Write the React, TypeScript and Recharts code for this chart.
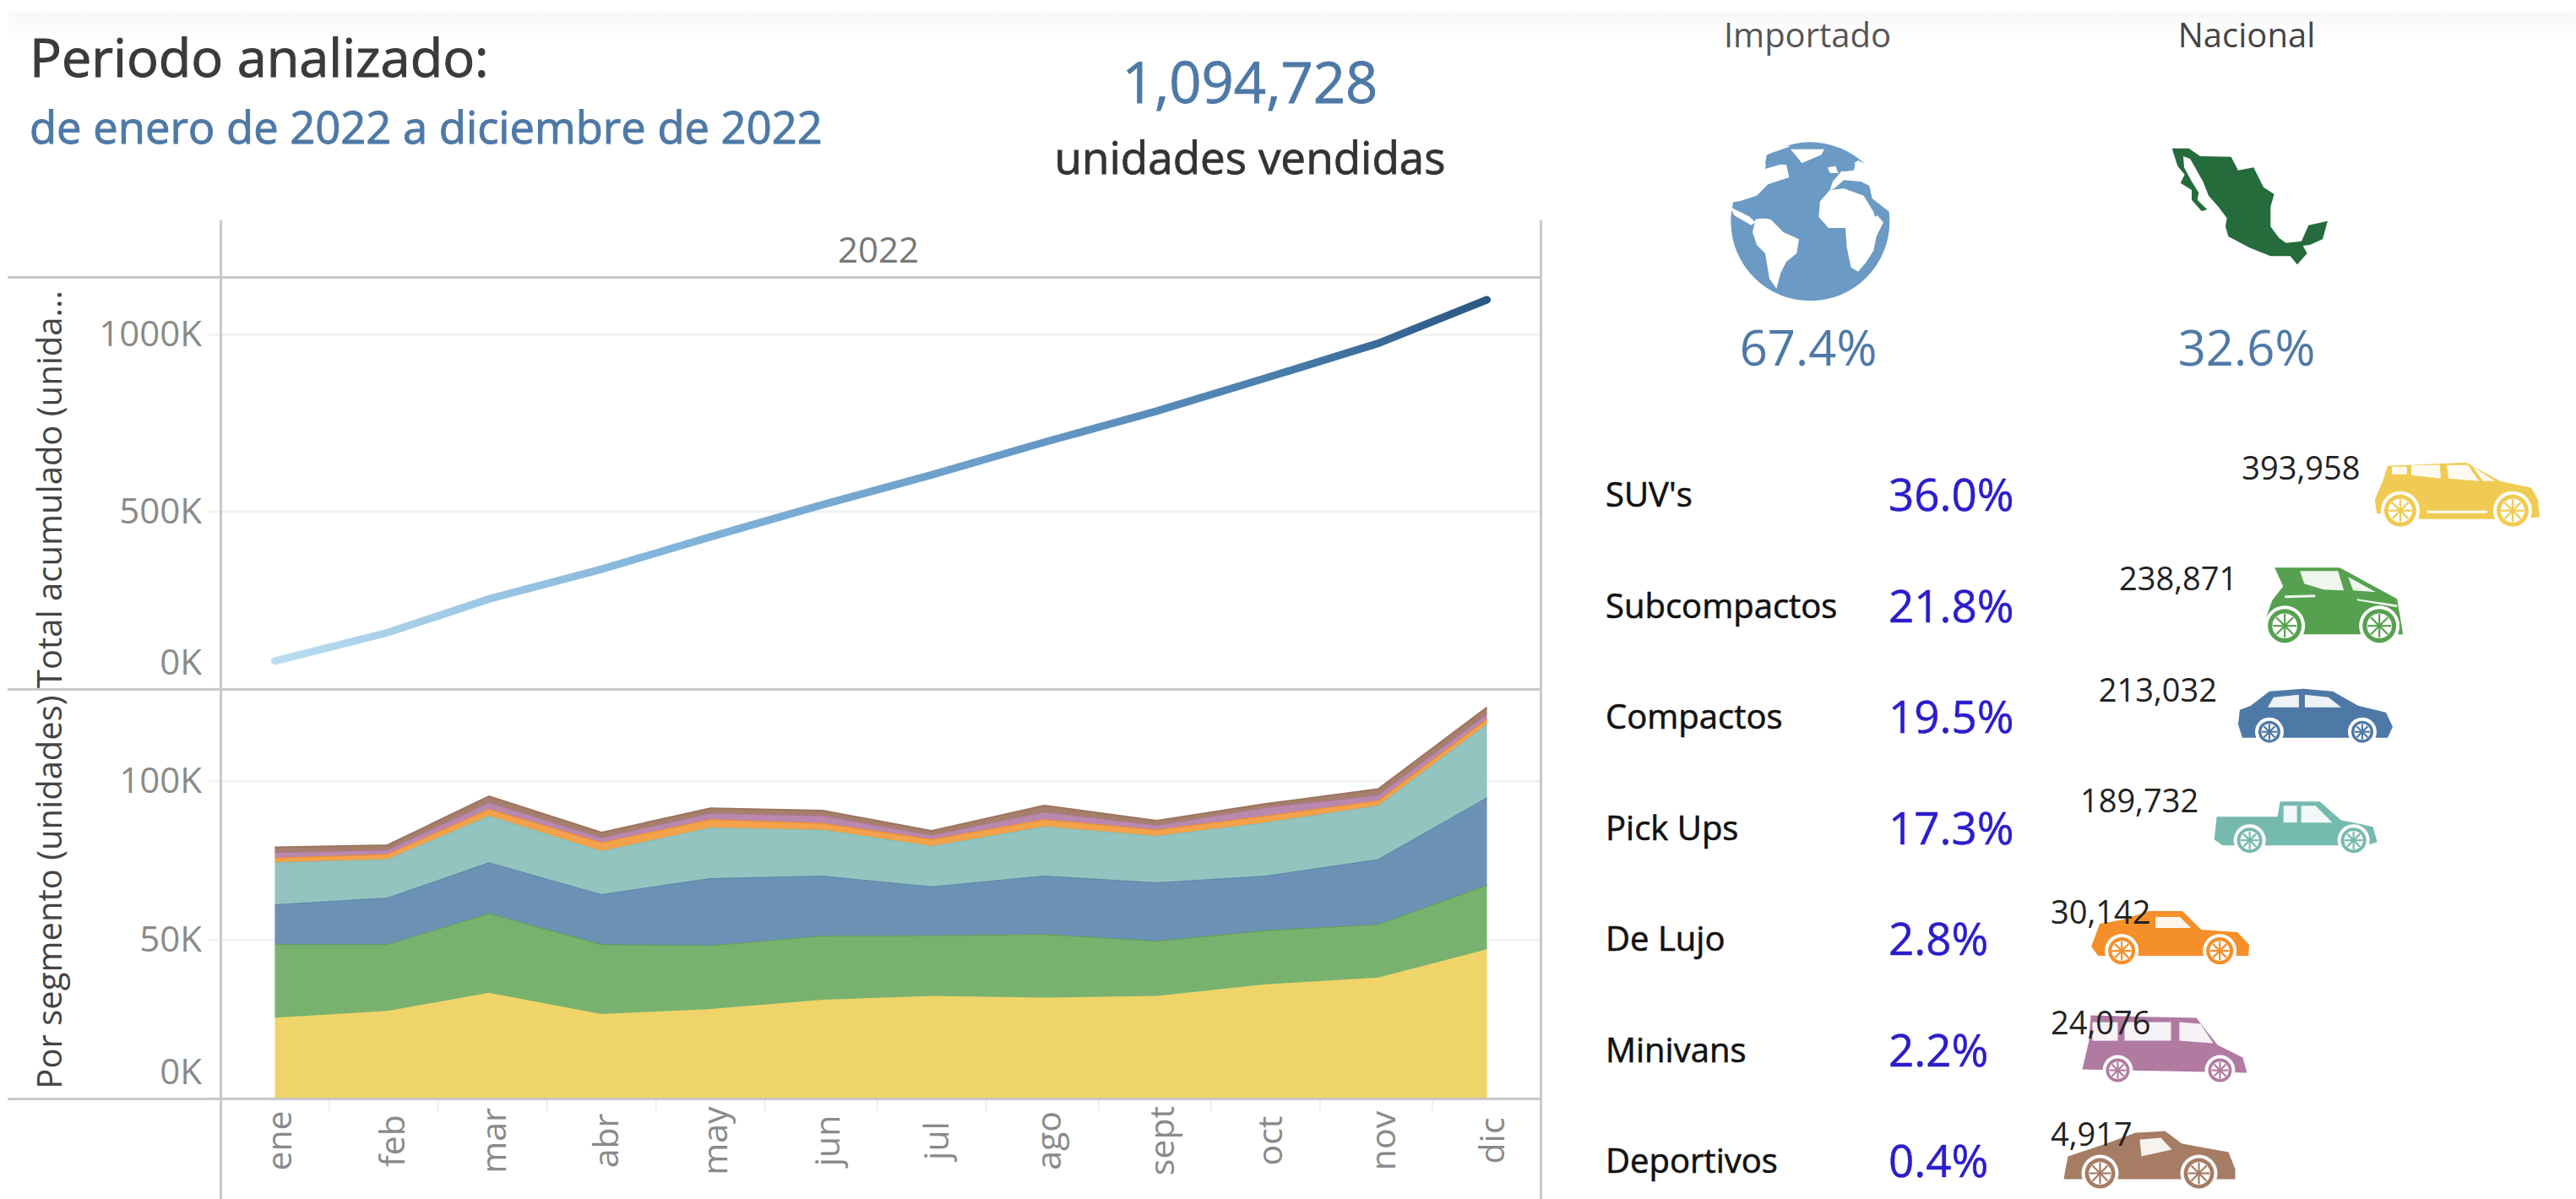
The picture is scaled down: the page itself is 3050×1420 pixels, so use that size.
import {
  Area,
  AreaChart,
  CartesianGrid,
  Line,
  LineChart,
  Scatter,
  ScatterChart,
  XAxis,
  YAxis,
} from "recharts";

const FONT = "'Open Sans', sans-serif";
const GRID = "#f2f2f2";
const FRAME = "#c8c8c8";

// day of the year on which each month starts, the axis is a real date axis
const monthDays = [0, 31, 59, 90, 120, 151, 181, 212, 243, 273, 304, 334];
const monthLabels = ["ene", "feb", "mar", "abr", "may", "jun", "jul", "ago", "sept", "oct", "nov", "dic"];
const bandDays = [15, 45, 75, 105, 135, 166, 196, 227, 258, 288, 319];

const cumulative = [79000, 159000, 254000, 338000, 429000, 520000, 604000, 696000, 784000, 877000, 975000, 1098000];

const suv = [25500, 27600, 33300, 26600, 28200, 31100, 32300, 31800, 32300, 36000, 38100, 47000];
const subcompactos = [23100, 21000, 25100, 22000, 20100, 20200, 19100, 20000, 17400, 17000, 16800, 20300];
const compactos = [12600, 14700, 16000, 15800, 21100, 18900, 15400, 18400, 18400, 17200, 20500, 27600];
const pickUps = [13200, 12100, 14700, 13600, 16000, 14500, 12800, 15500, 14700, 16800, 16900, 23100];
const deLujo = [1500, 1600, 2100, 2700, 2600, 2100, 2100, 2300, 1900, 2100, 1600, 1600];
const minivans = [1600, 1300, 2100, 1500, 1900, 2300, 1300, 2300, 1400, 2600, 1700, 1500];
const deportivos = [1600, 1500, 1900, 1600, 1500, 1600, 1300, 2000, 1400, 1100, 1900, 2100];

const segmentNames = ["SUV's", "Subcompactos", "Compactos", "Pick Ups", "De Lujo", "Minivans", "Deportivos"];
const segmentShares = ["36.0%", "21.8%", "19.5%", "17.3%", "2.8%", "2.2%", "0.4%"];
const segmentUnits = [393958, 238871, 213032, 189732, 30142, 24076, 4917];

const areaKeys = ["suv", "subcompactos", "compactos", "pickUps", "deLujo", "minivans", "deportivos"];
const areaFills = ["#efd469", "#79b26f", "#6d91b5", "#93c4bf", "#f2a24a", "#bb88ad", "#a67f6c"];
const areaStrokes = ["#efd469", "#5fa05a", "#5c87a8", "#86bcb6", "#f28e2b", "#b07aa1", "#9c755f"];
const carColors = ["#efcb53", "#55a14f", "#4e79a7", "#76b9af", "#f58f2a", "#b07aa1", "#a67c64"];

const lineData = monthDays.map((day, i) => ({ day, total: cumulative[i] }));
const areaData = monthDays.map((day, i) => ({
  day,
  suv: suv[i],
  subcompactos: subcompactos[i],
  compactos: compactos[i],
  pickUps: pickUps[i],
  deLujo: deLujo[i],
  minivans: minivans[i],
  deportivos: deportivos[i],
}));
const carData = segmentNames.map((name, i) => ({ rank: i, name, units: segmentUnits[i], color: carColors[i] }));

const formatK = (v: number) => `${v / 1000}K`;

// Tableau pushes the 0K label up so it stays inside the pane
function ValueTick({ x, y, payload }: any) {
  const shift = payload.value === 0 ? -34 : -3;
  return (
    <text x={x} y={y + shift} textAnchor="end" dominantBaseline="central" fontFamily={FONT} fontSize={42} fill="#8a8a8a">
      {formatK(payload.value)}
    </text>
  );
}

function MonthTick({ x, y, payload }: any) {
  const idx = monthDays.indexOf(payload.value);
  if (idx < 0) return <line x1={x} x2={x} y1={y + 2} y2={y + 15} stroke="#efefef" strokeWidth={2} />;
  const cx = x + 4;
  const cy = y + 50;
  return (
    <text
      x={cx}
      y={cy}
      transform={`rotate(-90 ${cx} ${cy})`}
      textAnchor="middle"
      dominantBaseline="central"
      fontFamily={FONT}
      fontSize={41}
      fill="#8a8a8a"
    >
      {monthLabels[idx]}
    </text>
  );
}

function SegmentTick({ y, payload }: any) {
  const i = payload.value;
  return (
    <g>
      <text
        x={21}
        y={y}
        dominantBaseline="central"
        fontFamily={FONT}
        fontSize={40}
        fill="#111"
        stroke="#111"
        strokeWidth={0.6}
      >
        {segmentNames[i]}
      </text>
      <text
        x={356}
        y={y}
        dominantBaseline="central"
        fontFamily={FONT}
        fontSize={53}
        fill="#2b1dcc"
        stroke="#2b1dcc"
        strokeWidth={0.5}
      >
        {segmentShares[i]}
      </text>
    </g>
  );
}

// silhouettes only, not data: box size, body outline, windows, wheels
const carShapes = [
  {
    w: 195, h: 80,
    body: "M15 7 L108 3 L148 25 L185 33 L193 47 L195 68 L142 70 L55 70 L2 63 L0 47 L10 23 Z",
    windows: [
      "M20 8 L38 8 L38 17 L20 17 Z",
      "M43 6 L77 6 L78 22 L43 18 Z",
      "M85 6 L110 6 L123 25 L87 22 Z",
      "M115 7 L142 25 L128 25 Z",
      "M62 60 L133 60 L133 63 L62 63 Z",
    ],
    wheels: [[30, 60, 19], [163, 60, 19]],
  },
  {
    w: 162, h: 90,
    body: "M10 1 L87 1 L155 38 L162 80 L45 80 L2 77 L0 60 L7 40 L20 23 Z",
    windows: [
      "M11 7 L20 23 L8 37 Z",
      "M40 5 L85 5 L92 28 L68 27 L45 20 Z",
      "M97 12 L130 30 L103 28 Z",
      "M107 38 L155 45 L155 48 L108 40 Z",
      "M22 34 L58 33 L58 36 L22 37 Z",
    ],
    wheels: [[22, 70, 20], [134, 70, 20]],
  },
  {
    w: 186, h: 64,
    body: "M3 42 L5 25 L18 20 L40 3 L80 0 L115 3 L145 20 L178 28 L186 45 L180 58 L8 58 Z",
    windows: ["M45 10 L75 7 L75 22 L38 22 Z", "M82 7 L110 10 L125 22 L82 22 Z"],
    wheels: [[40, 51, 13], [150, 51, 13]],
  },
  {
    w: 193, h: 60,
    body: "M3 18 L75 18 L78 0 L125 0 L150 22 L188 30 L193 48 L180 52 L10 52 L0 45 Z",
    windows: ["M82 5 L98 5 L98 25 L82 25 Z", "M103 5 L120 5 L140 25 L103 25 Z"],
    wheels: [[42, 46, 15], [165, 46, 15]],
  },
  {
    w: 189, h: 63,
    body: "M2 42 L12 15 L40 10 L70 0 L110 0 L132 22 L175 25 L189 40 L188 53 L10 53 Z",
    windows: ["M78 7 L107 7 L120 20 L78 20 Z"],
    wheels: [[38, 47, 16], [154, 47, 16]],
  },
  {
    w: 195, h: 79,
    body: "M10 0 L135 3 L160 35 L190 50 L195 68 L0 64 L8 30 Z",
    windows: ["M12 8 L42 8 L42 30 L12 30 Z", "M50 8 L105 8 L105 30 L50 30 Z", "M115 8 L140 10 L155 33 L115 30 Z"],
    wheels: [[42, 65, 14], [163, 65, 14]],
  },
  {
    w: 203, h: 68,
    body: "M2 45 L5 30 L50 15 L85 2 L120 0 L140 15 L195 25 L203 45 L203 57 L0 57 Z",
    windows: ["M90 10 L115 8 L128 22 L92 30 Z"],
    wheels: [[43, 50, 18], [160, 50, 18]],
  },
];

const PANE_LEFT = 548;

function CarMark({ cx, cy, payload }: any) {
  const shape = carShapes[payload.rank];
  const text = payload.units.toLocaleString("en-US");
  const textRight = cx - 115;
  const clamped = textRight - text.length * 21 < PANE_LEFT;
  return (
    <g>
      <g transform={`translate(${cx - shape.w / 2} ${cy - shape.h / 2})`} fill={payload.color}>
        <path d={shape.body} />
        {shape.windows.map((d, i) => (
          <path key={i} d={d} fill="#fff" fillOpacity={0.9} />
        ))}
        {shape.wheels.map(([wx, wy, r], i) => (
          <g key={i}>
            <circle cx={wx} cy={wy} r={r + 4} fill="#fff" />
            <circle cx={wx} cy={wy} r={r} />
            <circle cx={wx} cy={wy} r={r * 0.74} fill="#fff" />
            <g stroke={payload.color} strokeWidth={2.2}>
              <line x1={wx - r * 0.7} x2={wx + r * 0.7} y1={wy} y2={wy} />
              <line x1={wx} x2={wx} y1={wy - r * 0.7} y2={wy + r * 0.7} />
              <line x1={wx - r * 0.5} x2={wx + r * 0.5} y1={wy - r * 0.5} y2={wy + r * 0.5} />
              <line x1={wx - r * 0.5} x2={wx + r * 0.5} y1={wy + r * 0.5} y2={wy - r * 0.5} />
            </g>
          </g>
        ))}
      </g>
      <text
        x={clamped ? PANE_LEFT : textRight}
        y={cy - 32}
        textAnchor={clamped ? "start" : "end"}
        dominantBaseline="central"
        fontFamily={FONT}
        fontSize={38}
        fill="#222"
      >
        {text}
      </text>
    </g>
  );
}

function Label({ left, top, size, color, center, heavy, children }: any) {
  return (
    <div
      style={{
        position: "absolute",
        left,
        top,
        transform: center ? "translate(-50%, -50%)" : "translateY(-50%)",
        fontFamily: FONT,
        fontSize: size,
        color,
        WebkitTextStroke: heavy ? `${heavy}px ${color}` : undefined,
        whiteSpace: "nowrap",
        lineHeight: 1,
      }}
    >
      {children}
    </div>
  );
}

function Rule({ left, top, width, height }: any) {
  return <div style={{ position: "absolute", left, top, width, height, background: FRAME }} />;
}

function Globe() {
  return (
    <svg style={{ position: "absolute", left: 2040, top: 160 }} width={210} height={210}>
      <g transform="scale(0.3333)">
        <circle cx={310} cy={307} r={282} fill="#6b9ac4" />
        <g fill="#fff">
          <path d="M115 300 Q140 292 170 300 L215 345 L270 370 L262 420 L225 450 L205 490 L190 545 L165 510 L150 420 L120 390 L105 345 Z" />
          <path d="M380 195 L430 190 L500 215 L530 265 L570 310 L545 360 L535 410 L510 450 L480 485 L455 470 L440 400 L435 330 L375 330 L340 290 L345 235 Z" />
          <path d="M20 240 L60 235 L120 215 L160 175 L235 150 L225 105 L150 105 L155 70 L240 40 L100 20 L10 160 Z" />
          <path d="M25 255 L95 290 L115 310 L100 320 L40 285 Z" />
          <path d="M240 50 L360 50 L350 70 L280 100 L265 80 Z" />
          <path d="M372 115 L400 110 L410 135 L380 135 Z" />
          <path d="M390 165 L420 130 L480 90 L600 150 L600 280 L530 225 L520 180 L490 165 L430 160 L395 190 L380 195 Z" />
        </g>
        <g fill="#6b9ac4">
          <path d="M65 235 L110 225 L120 255 L150 268 L105 265 L95 270 L65 262 Z" />
          <path d="M160 72 L235 58 L235 95 L150 120 Z" />
          <path d="M420 110 L470 100 L465 125 L425 130 Z" />
          <path d="M525 240 L535 238 L550 285 L540 290 Z" />
          <path d="M545 395 L570 390 L560 430 L540 435 Z" />
        </g>
      </g>
    </svg>
  );
}

function Mexico() {
  return (
    <svg style={{ position: "absolute", left: 2560, top: 165 }} width={210} height={160}>
      <g fill="#256b3c" transform="scale(0.3333)">
        <path d="M35 32 L95 32 L135 60 L245 62 L270 110 L325 100 L360 170 L398 195 L385 240 L385 310 L415 350 L440 368 L495 362 L520 305 L588 290 L570 355 L525 375 L500 378 L515 405 L480 445 L455 415 L385 415 L310 385 L235 345 L225 310 L230 280 L200 240 L165 200 L145 150 L100 70 L75 60 L78 100 L105 150 L130 190 L125 215 L160 250 L140 255 L105 215 L105 180 L65 155 L80 125 L55 95 Z" />
      </g>
    </svg>
  );
}

export default function App() {
  return (
    <div style={{ position: "absolute", left: 0, top: 0, width: 3050, height: 1420, background: "#fff", overflow: "hidden" }}>
      <div
        style={{
          position: "absolute",
          left: 10,
          top: 15,
          width: 3040,
          height: 32,
          background: "linear-gradient(#f8f8f8, #ffffff)",
        }}
      />

      <Label left={35} top={66} size={63} color="#3a3a3a" heavy={1}>
        Periodo analizado:
      </Label>
      <Label left={35} top={150} size={52.5} color="#4e79a7" heavy={1}>
        de enero de 2022 a diciembre de 2022
      </Label>
      <Label left={1480} top={96} size={67} color="#4e79a7" heavy={0.8}>
        <span style={{ display: "block", transform: "translateX(-50%)" }}>1,094,728</span>
      </Label>
      <Label left={1480} top={185} size={53} color="#333" heavy={0.8} center>
        unidades vendidas
      </Label>
      <Label left={1040} top={295} size={42} color="#777" center>
        2022
      </Label>

      <Label left={2140} top={41} size={40} color="#555" center>
        Importado
      </Label>
      <Label left={2660} top={41} size={40} color="#444" center>
        Nacional
      </Label>
      <Globe />
      <Mexico />
      <Label left={2141} top={411} size={58} color="#4e79a7" center>
        67.4%
      </Label>
      <Label left={2660} top={411} size={58} color="#4e79a7" center>
        32.6%
      </Label>

      <div style={{ position: "absolute", left: 0, top: 329 }}>
        <LineChart width={1825} height={487} data={lineData} margin={{ top: 0, right: 0, bottom: 0, left: 0 }}>
          <defs>
            <linearGradient id="totalGrad" x1="0" y1="0" x2="1" y2="0">
              <stop offset="0%" stopColor="#b9ddf0" />
              <stop offset="30%" stopColor="#85b6db" />
              <stop offset="60%" stopColor="#6a9cc8" />
              <stop offset="82%" stopColor="#4a7fae" />
              <stop offset="100%" stopColor="#2a5783" />
            </linearGradient>
          </defs>
          <CartesianGrid horizontal vertical={false} stroke={GRID} strokeWidth={3} />
          <XAxis type="number" dataKey="day" domain={[-15, 349]} hide />
          <YAxis
            type="number"
            width={261}
            domain={[0, 1160000]}
            ticks={[0, 500000, 1000000]}
            interval={0}
            tick={ValueTick}
            tickSize={14}
            tickMargin={8}
            tickLine={{ stroke: GRID, strokeWidth: 3 }}
            axisLine={false}
            label={{
              value: "Total acumulado (unida...",
              angle: -90,
              position: "center",
              dx: -72,
              dy: 7,
              fontFamily: FONT,
              fontSize: 40,
              fill: "#444",
            }}
          />
          <Line
            type="linear"
            dataKey="total"
            stroke="url(#totalGrad)"
            strokeWidth={9}
            strokeLinecap="round"
            dot={false}
            isAnimationActive={false}
          />
        </LineChart>
      </div>

      <div style={{ position: "absolute", left: 0, top: 816 }}>
        <AreaChart width={1825} height={604} data={areaData} margin={{ top: 0, right: 0, bottom: 0, left: 0 }}>
          <CartesianGrid horizontal vertical={false} stroke={GRID} strokeWidth={3} />
          <XAxis
            type="number"
            dataKey="day"
            domain={[-15, 349]}
            ticks={[...monthDays, ...bandDays].sort((a, b) => a - b)}
            interval={0}
            height={119}
            tick={MonthTick}
            tickLine={false}
            tickSize={0}
            tickMargin={0}
            axisLine={false}
          />
          <YAxis
            type="number"
            width={261}
            domain={[0, 129000]}
            ticks={[0, 50000, 100000]}
            interval={0}
            tick={ValueTick}
            tickSize={14}
            tickMargin={8}
            tickLine={{ stroke: GRID, strokeWidth: 3 }}
            axisLine={false}
            label={{
              value: "Por segmento (unidades)",
              angle: -90,
              position: "center",
              dx: -72,
              dy: -2,
              fontFamily: FONT,
              fontSize: 40,
              fill: "#444",
            }}
          />
          {areaKeys.map((key, i) => (
            <Area
              key={key}
              type="linear"
              dataKey={key}
              stackId="segments"
              fill={areaFills[i]}
              fillOpacity={1}
              stroke={areaStrokes[i]}
              strokeWidth={2}
              dot={false}
              isAnimationActive={false}
            />
          ))}
        </AreaChart>
      </div>

      <Rule left={260} top={261} width={3} height={1159} />
      <Rule left={1823} top={261} width={3} height={1159} />
      <Rule left={9} top={327} width={1817} height={3} />
      <Rule left={9} top={815} width={1817} height={3} />
      <Rule left={9} top={1300} width={1817} height={3} />

      <div style={{ position: "absolute", left: 1880, top: 519 }}>
        <ScatterChart width={1170} height={894} margin={{ top: 0, right: 0, bottom: 0, left: 0 }}>
          <XAxis type="number" dataKey="units" domain={[-120000, 544000]} hide />
          <YAxis
            type="number"
            dataKey="rank"
            width={548}
            reversed
            domain={[-0.5, 6.3]}
            ticks={[0, 1, 2, 3, 4, 5, 6]}
            interval={0}
            tick={SegmentTick}
            tickLine={false}
            axisLine={false}
          />
          <Scatter data={carData} shape={CarMark} isAnimationActive={false} />
        </ScatterChart>
      </div>
    </div>
  );
}
